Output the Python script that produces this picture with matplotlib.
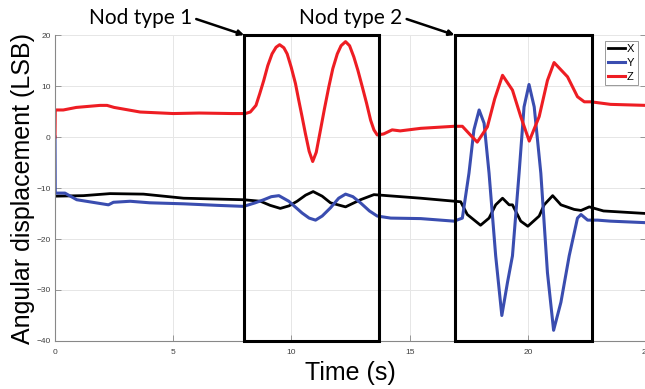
import numpy as np
import matplotlib
matplotlib.use("Agg")
import matplotlib.pyplot as plt
from matplotlib.patches import Rectangle

# values
t_x = [0, 1.2, 2.33, 3.74, 5.44, 7.98, 8.69, 9.1, 9.53, 9.9, 10.24, 10.6, 10.92, 11.3, 11.65,
       12.29, 12.92, 13.49, 14.05, 15.47, 17.16, 17.44, 18.0, 18.36, 18.64, 18.93, 19.21,
       19.35, 19.7, 20.0, 20.48, 20.69, 21.05, 21.4, 21.96, 22.25, 22.6, 23.2, 25]
x_vals = [-11.6, -11.5, -11.1, -11.2, -12.0, -12.3, -12.6, -13.4, -14.0, -13.5, -12.6, -11.4, -10.7, -11.6, -12.9,
          -13.7, -12.3, -11.3, -11.5, -12.0, -12.7, -15.2, -17.3, -15.9, -13.3, -12.0, -13.3,
          -13.3, -16.5, -17.5, -15.5, -13.3, -11.5, -13.3, -14.2, -14.4, -13.7, -14.5, -15.0]

t_y = [0, 0.01, 0.42, 0.92, 2.26, 2.47, 3.18, 4.0, 5.44, 6.85, 7.98, 8.47, 8.83, 9.15, 9.47,
       9.89, 10.45, 10.75, 11.02, 11.3, 11.65, 12.0, 12.29, 12.6, 12.92, 13.3, 13.63, 14.2,
       15.47, 16.88, 17.23, 17.51, 17.72, 17.94, 18.15, 18.36, 18.64, 18.9, 19.14, 19.35,
       19.63, 19.84, 20.05, 20.27, 20.55, 20.83, 21.09, 21.4, 21.75, 22.1, 22.25, 22.53,
       22.95, 23.5, 25]
y_vals = [0, -11.0, -11.0, -12.3, -13.3, -12.8, -12.6, -12.9, -13.1, -13.4, -13.6, -12.9, -12.3, -11.7, -11.5,
          -12.6, -14.9, -15.9, -16.3, -15.5, -13.9, -12.0, -11.2, -11.7, -12.9, -14.5, -15.5, -15.9,
          -16.0, -16.5, -15.9, -7.1, 1.4, 5.3, 2.7, -7.1, -23.3, -35.0, -28.5, -23.3,
          -7.1, 5.9, 10.3, 5.9, -7.1, -26.6, -37.9, -32.4, -23.3, -15.9, -15.2, -16.3,
          -16.3, -16.5, -16.8]

t_z = [0, 0.01, 0.35, 0.9, 1.9, 2.2, 2.5, 3.6, 5.0, 6.1, 7.5, 8.05, 8.26, 8.5, 8.66, 8.83,
       9.0, 9.18, 9.35, 9.5, 9.68, 9.82, 9.99, 10.17, 10.31, 10.45, 10.59, 10.75, 10.9, 11.05,
       11.23, 11.4, 11.58, 11.75, 11.94, 12.1, 12.29, 12.46, 12.64, 12.81, 13.0, 13.18,
       13.35, 13.49, 13.63, 13.9, 14.26, 14.6, 15.47, 16.88, 17.23, 17.55, 17.86, 18.29,
       18.6, 18.93, 19.35, 19.7, 20.06, 20.48, 20.83, 21.11, 21.68, 22.1, 22.39, 22.67, 23.5, 25]
z_vals = [0, 5.3, 5.3, 5.8, 6.2, 6.2, 5.8, 4.9, 4.6, 4.7, 4.6, 4.6, 4.9, 6.2, 8.5, 11.1,
          14.0, 16.3, 17.6, 18.1, 17.5, 16.3, 13.7, 10.5, 7.2, 4.0, 0.7, -2.8, -4.8, -3.0,
          1.4, 5.6, 9.8, 13.4, 16.3, 17.9, 18.7, 17.9, 15.7, 13.1, 9.8, 6.6,
          3.3, 1.4, 0.4, 0.6, 1.4, 1.2, 1.7, 2.1, 2.1, 0.5, -1.0, 2.0,
          7.5, 12.1, 9.2, 4.0, -0.8, 4.0, 11.1, 14.6, 11.8, 7.9, 6.9, 6.9, 6.4, 6.2]

boxes = [(8.0, 13.7), (16.9, 22.7)]
box_labels = ["Nod type 1", "Nod type 2"]

plt.rcParams['font.family'] = ['Liberation Sans', 'DejaVu Sans']

fig = plt.figure(figsize=(6.45, 3.89), dpi=100)
ax = fig.add_axes([0.0853, 0.1234, 0.9163, 0.7866])

ax.plot(t_x, x_vals, color='black', lw=2.0, label='X')
ax.plot(t_y, y_vals, color='#3a4db0', lw=2.2, label='Y')
ax.plot(t_z, z_vals, color='#ee1d23', lw=2.2, label='Z')

ax.set_xlim(0, 25)
ax.set_ylim(-40, 20)
ax.set_xticks([0, 5, 10, 15, 20, 25])
ax.set_yticks([-40, -30, -20, -10, 0, 10, 20])
ax.grid(True, color='#e6e6e6', lw=0.7)
ax.set_axisbelow(True)
ax.tick_params(direction='in', length=4, width=0.6, colors='#888888', labelsize=6,
               labelcolor='#404040', right=True, pad=3)
ax.tick_params(axis='x', pad=6)
for s in ['top', 'right']:
    ax.spines[s].set_visible(False)
for s in ['left', 'bottom']:
    ax.spines[s].set_color('#888888')
    ax.spines[s].set_linewidth(0.8)

ax.set_xlabel("Time (s)", fontsize=18)
ax.set_ylabel("Angular displacement (LSB)", fontsize=18)
ax.xaxis.set_label_coords(0.5, -0.065)
ax.yaxis.set_label_coords(-0.034, 0.5)

# nod boxes with labels
for (a, b), lab in zip(boxes, box_labels):
    ax.add_patch(Rectangle((a, -40), b - a, 60, fill=False, ec='black', lw=2.2,
                           clip_on=False, zorder=5))
    ax.annotate(lab, xy=(a, 20), xytext=(a - 2.2, 23.4), textcoords='data',
                ha='right', va='center', fontsize=15, family=['Lato', 'DejaVu Sans'],
                annotation_clip=False,
                arrowprops=dict(arrowstyle='-|>', color='black', lw=1.8, relpos=(1, 0.5),
                                shrinkA=1, shrinkB=0, mutation_scale=8))

leg = ax.legend(loc='upper right', bbox_to_anchor=(0.995, 1.0), fontsize=8,
                handlelength=1.5, handletextpad=0.15, borderpad=0.3, labelspacing=0.35,
                fancybox=False, edgecolor='#999999', framealpha=1)
leg.get_frame().set_linewidth(0.7)
leg.set_zorder(6)

fig.savefig("out.png", dpi=100)
